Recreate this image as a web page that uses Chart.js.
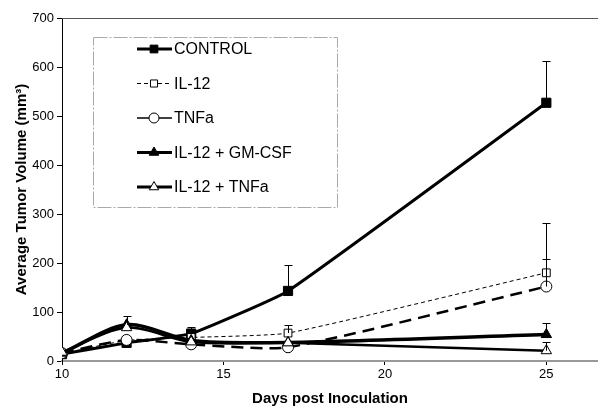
<!DOCTYPE html>
<html>
<head>
<meta charset="utf-8">
<script src="https://cdn.jsdelivr.net/npm/chart.js@4/dist/chart.umd.min.js"></script>
<style>
  html, body { margin: 0; padding: 0; background: #fff; }
  #wrap { width: 598px; height: 408px; }
</style>
</head>
<body>
<div id="wrap"><canvas id="chart"></canvas></div>
<script>
// data
const days = [10, 12, 14, 17, 25];
const xTicks = [10, 15, 20, 25];
const seriesNames = ['CONTROL', 'IL-12', 'TNFa', 'IL-12 + GM-CSF', 'IL-12 + TNFa'];

const control = [14, 37, 56, 143, 527];
const controlErr = [0, 0, 14, 52, 86];
const il12 = [15, 42, 48, 57, 180];
const il12Err = [0, 0, 0, 16, 101];
const tnfa = [16, 43, 34, 28, 152];
const tnfaErr = [0, 0, 0, 0, 56];
const il12Gm = [16, 74, 42, 38, 54];
const il12GmErr = [0, 17, 0, 0, 24];
const il12Tnfa = [18, 68, 39, 37, 21];
const il12TnfaErr = [0, 0, 0, 0, 17];

const yTicks = [0, 100, 200, 300, 400, 500, 600, 700];

function pts(vals) {
    return vals.map((v, i) => ({ x: days[i], y: v }));
}

const FONT = "'Liberation Sans', Arial, sans-serif";

// upward error bars
const errorBars = {
    id: 'errorBars',
    afterDatasetsDraw(chart) {
        const ctx = chart.ctx;
        const xs = chart.scales.x, ys = chart.scales.y;
        ctx.save();
        ctx.strokeStyle = '#000';
        ctx.lineWidth = 1;
        chart.data.datasets.forEach(ds => {
            ds.err.forEach((e, i) => {
                if (!e) return;
                const x = Math.round(xs.getPixelForValue(days[i])) + 0.5;
                const y0 = ys.getPixelForValue(ds.data[i].y);
                const y1 = Math.round(ys.getPixelForValue(ds.data[i].y + e)) + 0.5;
                ctx.beginPath();
                ctx.moveTo(x, y0);
                ctx.lineTo(x, y1);
                ctx.moveTo(x - 4, y1);
                ctx.lineTo(x + 4, y1);
                ctx.stroke();
            });
        });
        ctx.restore();
    }
};

// frame top line + legend box
const extras = {
    id: 'extras',
    beforeDatasetsDraw(chart) {
        const ctx = chart.ctx;
        const a = chart.chartArea;
        ctx.save();
        ctx.strokeStyle = '#555';
        ctx.lineWidth = 1;
        ctx.beginPath();
        ctx.moveTo(a.left, a.top + 0.5);
        ctx.lineTo(a.right, a.top + 0.5);
        ctx.stroke();
        ctx.restore();
    },
    afterDraw(chart) {
        const ctx = chart.ctx;
        ctx.save();
        ctx.fillStyle = '#fff';
        ctx.fillRect(93, 37, 244, 170);
        ctx.strokeStyle = '#aaa';
        ctx.lineWidth = 1;
        ctx.setLineDash([14, 2, 2, 2]);
        ctx.strokeRect(93.5, 37.5, 244, 170);
        ctx.setLineDash([]);
        chart.data.datasets.slice().reverse().forEach((ds, i) => {
            const y = 49 + i * 34.5;
            ctx.strokeStyle = '#000';
            ctx.lineWidth = ds.legendWidth;
            ctx.setLineDash(ds.legendDash);
            ctx.beginPath();
            ctx.moveTo(137, y);
            ctx.lineTo(172, y);
            ctx.stroke();
            ctx.setLineDash([]);
            ctx.fillStyle = ds.pointBackgroundColor;
            ctx.lineWidth = 1;
            Chart.helpers.drawPoint(ctx, {
                pointStyle: ds.pointStyle,
                radius: ds.legendRadius,
                rotation: 0,
                borderWidth: 1
            }, 154, y);
            ctx.fillStyle = '#000';
            ctx.font = '16px ' + FONT;
            ctx.textBaseline = 'middle';
            ctx.fillText(ds.label, 174, y + 1);
        });
        ctx.restore();
    }
};

function series(i, vals, err, style) {
    return Object.assign({
        label: seriesNames[i],
        data: pts(vals),
        err: err,
        borderColor: '#000',
        pointBorderColor: '#000',
        pointBorderWidth: 1,
        tension: 0.3,
        legendDash: []
    }, style);
}

// drawn back to front, CONTROL on top
new Chart(document.getElementById('chart'), {
    type: 'line',
    data: {
        datasets: [
            series(0, control, controlErr, { borderWidth: 3, legendWidth: 3, tension: 0.12, pointStyle: 'rect', pointRadius: 6.5, legendRadius: 5.5, pointBackgroundColor: '#000' }),
            series(1, il12, il12Err, { borderWidth: 1, legendWidth: 1, tension: 0.15, borderDash: [4, 3], legendDash: [4, 3], pointStyle: 'rect', pointRadius: 5.5, legendRadius: 5, pointBackgroundColor: '#fff' }),
            series(2, tnfa, tnfaErr, { borderWidth: 2.5, legendWidth: 1.5, tension: 0.2, borderDash: [12, 7], pointStyle: 'circle', pointRadius: 5.5, legendRadius: 5, pointBackgroundColor: '#fff' }),
            series(3, il12Gm, il12GmErr, { borderWidth: 3.5, legendWidth: 3, pointStyle: 'triangle', pointRadius: 6, legendRadius: 5.5, pointBackgroundColor: '#000' }),
            series(4, il12Tnfa, il12TnfaErr, { borderWidth: 2.5, legendWidth: 3, pointStyle: 'triangle', pointRadius: 6, legendRadius: 5.5, pointBackgroundColor: '#fff' })
        ].reverse()
    },
    options: {
        responsive: true,
        maintainAspectRatio: false,
        animation: false,
        layout: { autoPadding: false, padding: { top: 18, right: 0, left: 0, bottom: 0 } },
        plugins: { legend: { display: false }, tooltip: { enabled: false } },
        scales: {
            x: {
                type: 'linear',
                min: 10,
                max: 26.6,
                afterBuildTicks: s => { s.ticks = xTicks.map(v => ({ value: v })); },
                afterFit: s => { s.height = 47; s.paddingLeft = 0; s.paddingRight = 0; },
                grid: { display: true, drawOnChartArea: false, drawTicks: true, tickLength: 4, color: '#000' },
                border: { display: true, color: '#999', width: 2 },
                ticks: { color: '#000', font: { family: FONT, size: 13 }, padding: 2, maxRotation: 0 },
                title: { display: true, text: 'Days post Inoculation', color: '#000', font: { family: FONT, size: 15, weight: 'bold' }, padding: { top: 2, bottom: 0 } }
            },
            y: {
                type: 'linear',
                min: 0,
                max: 700,
                afterBuildTicks: s => { s.ticks = yTicks.map(v => ({ value: v })); },
                afterFit: s => { s.width = 62; s.paddingTop = 0; s.paddingBottom = 0; },
                grid: { display: true, drawOnChartArea: false, drawTicks: true, tickLength: 5, color: '#000' },
                border: { display: true, color: '#000', width: 1 },
                ticks: { color: '#000', font: { family: FONT, size: 13 }, padding: 3 },
                title: { display: true, text: 'Average Tumor Volume (mm³)', color: '#000', font: { family: FONT, size: 15, weight: 'bold' }, padding: { top: 13, bottom: 0 } }
            }
        }
    },
    plugins: [errorBars, extras]
});
</script>
</body>
</html>
